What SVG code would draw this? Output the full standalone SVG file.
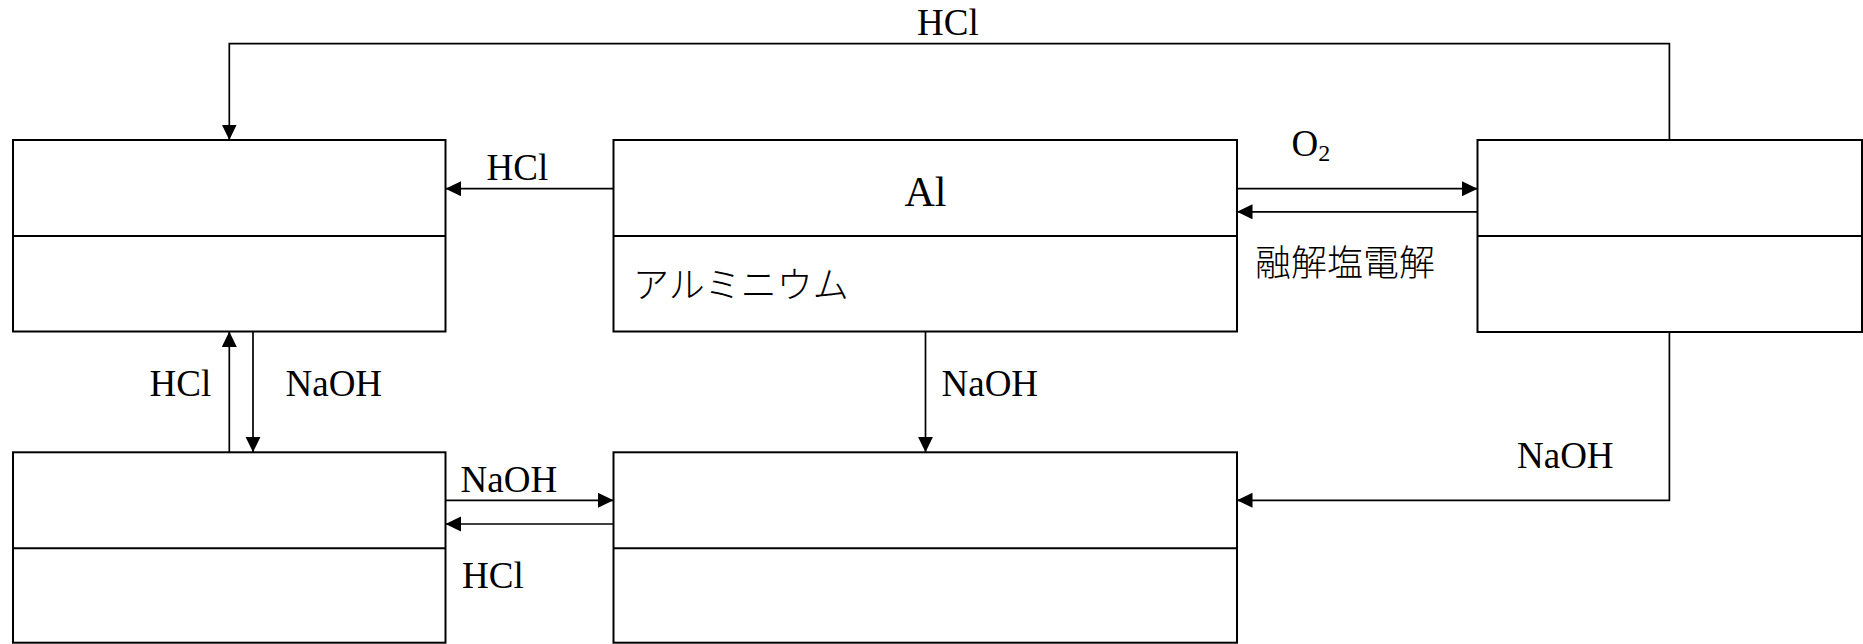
<svg xmlns="http://www.w3.org/2000/svg" width="1863" height="644" viewBox="0 0 1863 644">
  <style>
    .box { fill: #ffffff; stroke: #000000; stroke-width: 2; }
    .div { stroke: #000000; stroke-width: 2; fill: none; }
    .edge { stroke: #000000; stroke-width: 1.7; fill: none; marker-end: url(#arrow); }
    .lbl { font-family: "Liberation Serif", "Noto Sans CJK JP", serif; font-size: 37px; fill: #000000; }
    .jp { font-family: "Noto Sans CJK JP", sans-serif; font-size: 36px; fill: #000000; font-weight: 300; }
  </style>
  <defs>
    <marker id="arrow" markerUnits="userSpaceOnUse" markerWidth="16" markerHeight="16" refX="15.5" refY="7.5" orient="auto">
      <path d="M0,0 L15.5,7.5 L0,15 z" fill="#000000"/>
    </marker>
  </defs>
  <rect width="1863" height="644" fill="#ffffff"/>

  <!-- compound boxes: upper cell for the formula, lower cell for the name -->
  <g id="node-top-left">
    <rect class="box" x="13" y="140" width="432.5" height="191.5"/>
    <line class="div" x1="13" y1="236" x2="445.5" y2="236"/>
  </g>
  <g id="node-al">
    <rect class="box" x="613.5" y="140" width="623.5" height="191.5"/>
    <line class="div" x1="613.5" y1="236" x2="1237" y2="236"/>
    <text class="lbl" x="925.5" y="205.5" text-anchor="middle" style="font-size:42px">Al</text>
    <text class="jp" x="633" y="298">アルミニウム</text>
  </g>
  <g id="node-top-right">
    <rect class="box" x="1477.5" y="140" width="384.5" height="192"/>
    <line class="div" x1="1477.5" y1="236" x2="1862" y2="236"/>
  </g>
  <g id="node-bottom-left">
    <rect class="box" x="13" y="452.3" width="432.5" height="190.4"/>
    <line class="div" x1="13" y1="548.3" x2="445.5" y2="548.3"/>
  </g>
  <g id="node-bottom-mid">
    <rect class="box" x="613.5" y="452.3" width="623.5" height="190.4"/>
    <line class="div" x1="613.5" y1="548.3" x2="1237" y2="548.3"/>
  </g>

  <!-- reaction arrows -->
  <g id="connectors">
    <path class="edge" d="M1669.4,140 V43.7 H229.3 V140"/>
    <path class="edge" d="M613.5,188.7 H445.5"/>
    <path class="edge" d="M1237,188.7 H1477.5"/>
    <path class="edge" d="M1477.5,211.8 H1237"/>
    <path class="edge" d="M229.3,452.3 V331.5"/>
    <path class="edge" d="M253,331.5 V452.3"/>
    <path class="edge" d="M925.5,331.5 V452.3"/>
    <path class="edge" d="M1669.4,332 V500.3 H1237"/>
    <path class="edge" d="M445.5,500.3 H613.5"/>
    <path class="edge" d="M613.5,524 H445.5"/>
  </g>

  <!-- reagent labels -->
  <g id="labels">
    <text class="lbl" x="917" y="34.5">HCl</text>
    <text class="lbl" x="486.5" y="179.5">HCl</text>
    <text class="lbl" x="1291.5" y="156">O<tspan style="font-size:24px" dy="4.5">2</tspan></text>
    <text class="jp" x="1255" y="276">融解塩電解</text>
    <text class="lbl" x="149.5" y="396">HCl</text>
    <text class="lbl" x="285.5" y="396">NaOH</text>
    <text class="lbl" x="941.5" y="396">NaOH</text>
    <text class="lbl" x="1517" y="467.7">NaOH</text>
    <text class="lbl" x="460.6" y="491.7">NaOH</text>
    <text class="lbl" x="462" y="587.7">HCl</text>
  </g>
</svg>
